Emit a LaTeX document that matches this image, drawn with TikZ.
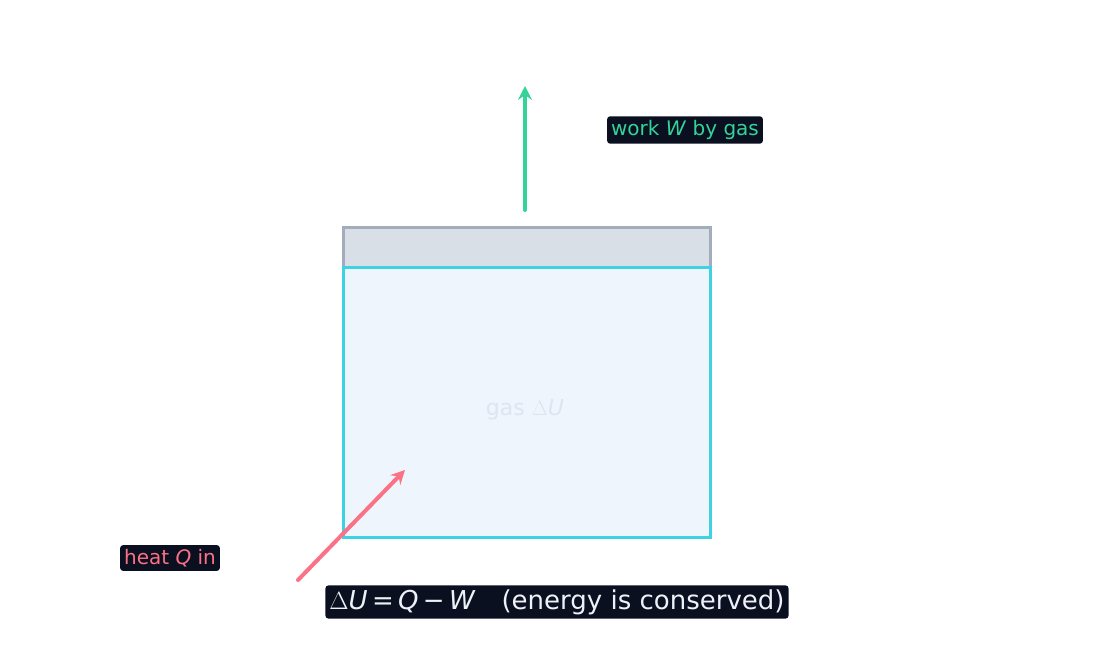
\documentclass[tikz,border=0pt]{standalone}
\usepackage{fontspec}
\setmainfont{DejaVu Sans}
\usetikzlibrary{arrows.meta}
\definecolor{dark}{HTML}{0A1020}
\definecolor{grn}{HTML}{34D399}
\definecolor{pnk}{HTML}{FB7185}
\definecolor{cyn}{HTML}{3DD3E3}
\definecolor{gasfill}{HTML}{EEF5FD}
\definecolor{pisfill}{HTML}{D8DFE7}
\definecolor{pisline}{HTML}{A2ACBA}
\definecolor{faint}{HTML}{DCE5F0}
\definecolor{wht}{HTML}{EEF2F8}
\tikzset{lbl/.style={fill=dark,rounded corners=3pt,inner sep=4pt,font=\fontsize{20}{24}\selectfont},
arr/.style={line width=4pt,-{Stealth[length=14pt,width=14pt,inset=5pt]},line cap=round}}
\begin{document}
\begin{tikzpicture}[x=1pt,y=-1pt]
\useasboundingbox (0,0) rectangle (1116,666);
\node[draw=pisline,fill=pisfill,line width=2.5pt,minimum width=367pt,minimum height=40pt,inner sep=0,anchor=north west] (piston) at (342,226) {};
\node[draw=cyn,fill=gasfill,line width=3pt,minimum width=367pt,minimum height=270pt,inner sep=0,anchor=north west] (gas) at (342,266) {};
\node[text=faint,font=\fontsize{22}{26}\selectfont] (gl) at (525,410) {gas $\Delta$\textit{U}};
\coordinate (ws) at (525,210);
\coordinate (we) at (525,86);
\draw[arr,grn] (ws) -- (we);
\node[lbl,text=grn] (wl) at (685,130) {work \textit{W} by gas};
\coordinate (hs) at (298,580);
\coordinate (he) at (405,470);
\draw[arr,pnk] (hs) -- (he);
\node[lbl,text=pnk] (hl) at (170,558) {heat \textit{Q} in};
\node[lbl,text=wht,font=\fontsize{26}{30}\selectfont] (eq) at (557,602) {$\Delta$\textit{U}\,=\,\textit{Q}\,−\,\textit{W}\quad (energy is conserved)};
\end{tikzpicture}
\end{document}
